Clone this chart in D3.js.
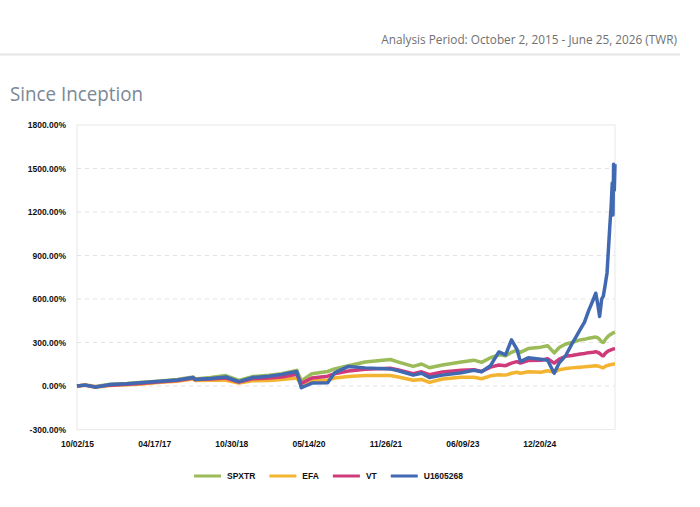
<!DOCTYPE html>
<html>
<head>
<meta charset="utf-8">
<script src="https://cdn.jsdelivr.net/npm/d3@7"></script>
<style>
  body { margin: 0; background: #fff; }
  svg { display: block; }
</style>
</head>
<body>
<div id="chart"></div>
<script>
// data (cumulative return, %)
var dates = [
  "2015-10-02", "2015-12-01", "2016-02-11", "2016-06-01", "2016-10-01", "2017-01-01",
  "2017-06-01", "2017-10-01", "2018-01-26", "2018-02-08", "2018-06-01", "2018-09-20",
  "2018-12-24", "2019-04-01", "2019-08-01", "2019-11-01", "2020-02-19", "2020-03-23",
  "2020-06-08", "2020-10-01", "2020-11-20", "2021-03-01", "2021-07-01", "2021-12-31",
  "2022-03-01", "2022-06-16", "2022-08-16", "2022-10-12", "2023-01-15", "2023-06-01",
  "2023-09-01", "2023-10-27", "2023-12-31", "2024-03-01", "2024-04-19", "2024-06-01",
  "2024-07-10", "2024-08-05", "2024-10-01", "2025-01-01", "2025-02-19", "2025-04-08",
  "2025-05-15", "2025-07-01", "2025-08-15", "2025-09-15", "2025-10-15", "2025-11-15",
  "2025-12-15", "2026-01-15", "2026-02-05", "2026-02-20", "2026-03-05", "2026-03-20",
  "2026-04-01", "2026-04-15", "2026-04-28", "2026-05-08", "2026-05-18", "2026-05-28",
  "2026-06-05", "2026-06-10", "2026-06-15", "2026-06-20", "2026-06-25"
];

var spxtr = [
  0, 8, -3, 12, 18, 25, 35, 45, 62, 48, 58, 72,
  38, 65, 75, 85, 108, 35, 85, 100, 118, 140, 165, 183,
  165, 135, 152, 126, 145, 165, 178, 163, 195, 215, 208, 232,
  248, 232, 258, 268, 278, 228, 265, 290, 300, 310, 318, 322,
  330, 335, 338, 332, 322, 305, 300, 320, 335, 345, 352, 358,
  362, 366, 368, 370, 372
];

var efa = [
  0, 5, -8, 3, 8, 12, 25, 33, 48, 38, 40, 40,
  20, 36, 38, 45, 55, 8, 35, 42, 55, 65, 72, 73,
  62, 40, 45, 25, 48, 60, 60, 50, 70, 78, 75, 88,
  95, 88, 98, 95, 105, 95, 112, 120, 125, 128, 130, 132,
  135, 138, 140, 138, 133, 128, 126, 135, 140, 143, 146, 148,
  150, 150, 151, 152, 152
];

var vt = [
  0, 6, -6, 6, 12, 18, 30, 38, 55, 44, 48, 55,
  27, 50, 55, 62, 80, 18, 55, 68, 85, 103, 115, 122,
  110, 85, 98, 78, 97, 108, 112, 100, 130, 145, 140, 158,
  168, 158, 175, 178, 188, 158, 185, 205, 210, 216, 220, 224,
  230, 233, 236, 232, 225, 212, 208, 225, 235, 242, 246, 250,
  253, 255, 256, 257, 258
];

var u1605268 = [
  0, 6, -8, 10, 15, 22, 32, 42, 58, 45, 52, 62,
  30, 58, 68, 80, 100, -12, 20, 22, 90, 135, 125, 118,
  105, 75, 88, 58, 75, 92, 108, 98, 140, 235, 215, 318,
  255, 168, 195, 185, 178, 88, 160, 210, 290, 340, 390, 440,
  520, 590, 640, 560, 480, 600, 620, 700, 780, 940, 1100, 1240,
  1400, 1180, 1530, 1350, 1530
];

var seriesNames = ["SPXTR", "EFA", "VT", "U1605268"];
var seriesColors = ["#9bbb59", "#f2b431", "#cf3a7b", "#4169b2"];
var seriesValues = [spxtr, efa, vt, u1605268];

var yTicks = [-300, 0, 300, 600, 900, 1200, 1500, 1800];
var xTickDates = ["2015-10-02", "2017-04-17", "2018-10-30", "2020-05-14", "2021-11-26", "2023-06-09", "2024-12-20"];

// svg params
var svgWidth = 700;
var svgHeight = 507;

var margin = { top: 125, right: 85, bottom: 77.5, left: 77 };
var chartWidth = svgWidth - margin.left - margin.right;
var chartHeight = svgHeight - margin.top - margin.bottom;

var parseDate = d3.timeParse("%Y-%m-%d");
var fmtDate = d3.timeFormat("%m/%d/%y");

var svg = d3.select("#chart")
  .append("svg")
  .attr("width", svgWidth)
  .attr("height", svgHeight);

// header
svg.append("text")
  .attr("x", 677)
  .attr("y", 44)
  .attr("text-anchor", "end")
  .attr("font-family", "Open Sans")
  .attr("font-size", 11.8)
  .attr("fill", "#707070")
  .text("Analysis Period: October 2, 2015 - June 25, 2026 (TWR)");

svg.append("line")
  .attr("x1", 0).attr("x2", 680)
  .attr("y1", 54.5).attr("y2", 54.5)
  .attr("stroke", "#e6e6e6")
  .attr("stroke-width", 2);

svg.append("text")
  .attr("x", 10)
  .attr("y", 101)
  .attr("font-family", "Open Sans")
  .attr("font-size", 20)
  .attr("fill", "#7b8896")
  .attr("textLength", 133)
  .attr("lengthAdjust", "spacingAndGlyphs")
  .text("Since Inception");

var chartGroup = svg.append("g")
  .attr("transform", `translate(${margin.left}, ${margin.top})`);

// scales
var xScale = d3.scaleTime()
  .domain([parseDate(dates[0]), parseDate(dates[dates.length - 1])])
  .range([0, chartWidth]);

var yScale = d3.scaleLinear()
  .domain([-300, 1800])
  .range([chartHeight, 0]);

// dashed grid lines
chartGroup.selectAll(".grid")
  .data(yTicks.filter(d => d > -300 && d < 1800))
  .enter()
  .append("line")
  .attr("class", "grid")
  .attr("x1", 0).attr("x2", chartWidth)
  .attr("y1", d => yScale(d)).attr("y2", d => yScale(d))
  .attr("stroke", "#e2e2e2")
  .attr("stroke-dasharray", "4,4");

// frame
chartGroup.append("rect")
  .attr("x", 0).attr("y", 0)
  .attr("width", chartWidth).attr("height", chartHeight)
  .attr("fill", "none")
  .attr("stroke", "#ececec")
  .attr("stroke-width", 1.2);

// axes
var leftAxis = d3.axisLeft(yScale)
  .tickValues(yTicks)
  .tickSize(0)
  .tickPadding(11)
  .tickFormat(d => d.toFixed(2) + "%");

var bottomAxis = d3.axisBottom(xScale)
  .tickValues(xTickDates.map(parseDate))
  .tickSize(0)
  .tickPadding(11)
  .tickFormat(fmtDate);

var yAxisG = chartGroup.append("g").call(leftAxis);
var xAxisG = chartGroup.append("g")
  .attr("transform", `translate(0, ${chartHeight})`)
  .call(bottomAxis);

[yAxisG, xAxisG].forEach(g => {
  g.select(".domain").remove();
  g.selectAll("text")
    .attr("font-family", "Liberation Sans")
    .attr("font-weight", "bold")
    .attr("font-size", 8.5)
    .attr("fill", "#111");
});

// lines
var line = d3.line()
  .x((d, i) => xScale(parseDate(dates[i])))
  .y(d => yScale(d));

seriesValues.forEach((vals, k) => {
  chartGroup.append("path")
    .datum(vals)
    .attr("fill", "none")
    .attr("stroke", seriesColors[k])
    .attr("stroke-width", 3.5)
    .attr("stroke-linejoin", "round")
    .attr("d", line);
});

// legend
var legend = svg.append("g")
  .attr("transform", "translate(194, 476)");

var lx = 0;
seriesNames.forEach((name, k) => {
  legend.append("line")
    .attr("x1", lx).attr("x2", lx + 27)
    .attr("y1", 0).attr("y2", 0)
    .attr("stroke", seriesColors[k])
    .attr("stroke-width", 3);
  var t = legend.append("text")
    .attr("x", lx + 33)
    .attr("y", 3)
    .attr("font-family", "Liberation Sans")
    .attr("font-weight", "bold")
    .attr("font-size", 8.5)
    .attr("fill", "#111")
    .text(name);
  lx += 33 + t.node().getComputedTextLength() + 14;
});
</script>
</body>
</html>
